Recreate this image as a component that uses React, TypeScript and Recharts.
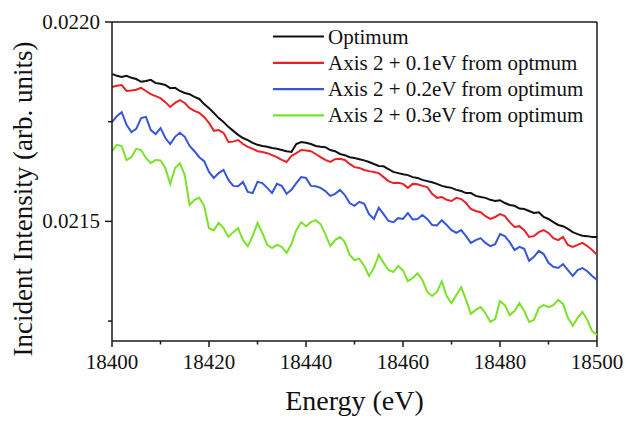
import { Legend, Line, LineChart, ReferenceLine, XAxis, YAxis } from "recharts";

// photon energy (eV), 1 eV steps
const energy = [
  18400, 18401, 18402, 18403, 18404, 18405, 18406, 18407, 18408, 18409,
  18410, 18411, 18412, 18413, 18414, 18415, 18416, 18417, 18418, 18419,
  18420, 18421, 18422, 18423, 18424, 18425, 18426, 18427, 18428, 18429,
  18430, 18431, 18432, 18433, 18434, 18435, 18436, 18437, 18438, 18439,
  18440, 18441, 18442, 18443, 18444, 18445, 18446, 18447, 18448, 18449,
  18450, 18451, 18452, 18453, 18454, 18455, 18456, 18457, 18458, 18459,
  18460, 18461, 18462, 18463, 18464, 18465, 18466, 18467, 18468, 18469,
  18470, 18471, 18472, 18473, 18474, 18475, 18476, 18477, 18478, 18479,
  18480, 18481, 18482, 18483, 18484, 18485, 18486, 18487, 18488, 18489,
  18490, 18491, 18492, 18493, 18494, 18495, 18496, 18497, 18498, 18499,
  18500,
];

const optimum = [
  0.02187, 0.021865, 0.021862, 0.021865, 0.02186, 0.021857, 0.02185, 0.021852, 0.021855, 0.021847,
  0.021845, 0.021842, 0.021834, 0.021835, 0.021827, 0.021822, 0.021819, 0.021812, 0.021807, 0.021794,
  0.021784, 0.021772, 0.021759, 0.021749, 0.021737, 0.021727, 0.021717, 0.021709, 0.021704, 0.021697,
  0.021692, 0.021689, 0.021687, 0.021684, 0.021682, 0.021679, 0.021676, 0.021674, 0.021694, 0.021699,
  0.021697, 0.021694, 0.021689, 0.021687, 0.021686, 0.021679, 0.021676, 0.021669, 0.021666, 0.021661,
  0.021659, 0.021656, 0.021653, 0.021649, 0.021644, 0.021639, 0.021638, 0.021631, 0.021624, 0.021621,
  0.021618, 0.021616, 0.021611, 0.021609, 0.021604, 0.021601, 0.021598, 0.021594, 0.021589, 0.021586,
  0.021584, 0.021579, 0.021576, 0.021571, 0.021571, 0.021564, 0.021561, 0.021559, 0.021554, 0.021551,
  0.021553, 0.021546, 0.021541, 0.021539, 0.021532, 0.021531, 0.021526, 0.021521, 0.021523, 0.021511,
  0.021506, 0.021498, 0.021491, 0.021488, 0.021481, 0.021473, 0.021468, 0.021464, 0.021463, 0.021461,
  0.021461,
];

const plus01 = [
  0.021837, 0.02184, 0.021842, 0.021827, 0.021828, 0.02183, 0.021835, 0.021827, 0.021819, 0.021814,
  0.021809, 0.021799, 0.021787, 0.021797, 0.021804, 0.021797, 0.021784, 0.021777, 0.021772, 0.021762,
  0.021747, 0.021727, 0.021729, 0.021722, 0.021699, 0.0217, 0.021704, 0.021694, 0.021687, 0.021682,
  0.021676, 0.021674, 0.021671, 0.021666, 0.021661, 0.021654, 0.021649, 0.021664, 0.021671, 0.021679,
  0.021678, 0.021676, 0.021669, 0.021661, 0.021654, 0.021649, 0.021656, 0.021657, 0.021654, 0.021644,
  0.021636, 0.021634, 0.021629, 0.021626, 0.021624, 0.021621, 0.021611, 0.021601, 0.021596, 0.021597,
  0.021594, 0.021584, 0.021594, 0.021593, 0.021589, 0.021586, 0.021569, 0.021559, 0.021561, 0.021554,
  0.021551, 0.021559, 0.021556, 0.021546, 0.021531, 0.021526, 0.021523, 0.021513, 0.021506, 0.021511,
  0.021518, 0.021513, 0.021498, 0.021486, 0.021488, 0.021478, 0.021461, 0.021463, 0.021473, 0.021478,
  0.021471, 0.021458, 0.021453, 0.021461, 0.021441, 0.021436, 0.021441, 0.021446, 0.021438, 0.021428,
  0.021416,
];

const plus02 = [
  0.021749, 0.021764, 0.021774, 0.021742, 0.021724, 0.021732, 0.021759, 0.021762, 0.021729, 0.021719,
  0.021734, 0.021709, 0.021694, 0.021712, 0.021722, 0.021712, 0.021689, 0.021676, 0.021661, 0.021651,
  0.021624, 0.021609, 0.021621, 0.021629, 0.021604, 0.021589, 0.021588, 0.021599, 0.021574, 0.021571,
  0.021599, 0.021596, 0.021584, 0.021571, 0.021594, 0.021589, 0.021569, 0.021579, 0.021596, 0.021611,
  0.021609, 0.021589, 0.021588, 0.021584, 0.021576, 0.021564, 0.021569, 0.021579, 0.021566, 0.021546,
  0.021539, 0.021549, 0.021544, 0.021518, 0.021506, 0.021534, 0.021518, 0.021501, 0.021498, 0.021508,
  0.021506, 0.021521, 0.021505, 0.021506, 0.021516, 0.021506, 0.021491, 0.02149, 0.021503, 0.021491,
  0.021478, 0.021471, 0.021478, 0.021463, 0.021446, 0.021453, 0.021458, 0.021446, 0.021438, 0.021443,
  0.021468, 0.021463, 0.021448, 0.021428, 0.021436, 0.021431, 0.021401, 0.021411, 0.021426, 0.021418,
  0.021396, 0.021386, 0.021383, 0.021393, 0.021378, 0.021363, 0.021378, 0.021383, 0.021375, 0.021363,
  0.021353,
];

const plus03 = [
  0.021676, 0.021692, 0.021689, 0.021654, 0.021661, 0.021682, 0.021679, 0.021659, 0.021646, 0.021654,
  0.021653, 0.021634, 0.021594, 0.021634, 0.021646, 0.021616, 0.021541, 0.021554, 0.021559, 0.021539,
  0.021483, 0.021478, 0.021496, 0.021483, 0.021461, 0.021473, 0.021483, 0.021453, 0.021438, 0.021463,
  0.021496, 0.021471, 0.021441, 0.021433, 0.021441, 0.021436, 0.021421, 0.021443, 0.021478, 0.021498,
  0.021488, 0.021498, 0.021503, 0.021493, 0.021468, 0.021438, 0.021453, 0.021461, 0.021448, 0.021416,
  0.021403, 0.021406, 0.021388, 0.021363, 0.021383, 0.021416, 0.021396, 0.021378, 0.021373, 0.021388,
  0.021377, 0.02135, 0.021358, 0.02137, 0.021353, 0.021323, 0.021313, 0.021323, 0.02135, 0.021313,
  0.021295, 0.021315, 0.021335, 0.021303, 0.021268, 0.021278, 0.021285, 0.02127, 0.021248, 0.021255,
  0.0213, 0.02129, 0.021265, 0.021275, 0.021295, 0.021275, 0.021248, 0.021253, 0.021283, 0.02129,
  0.021285, 0.02129, 0.021303, 0.021293, 0.021258, 0.021238, 0.021258, 0.021273, 0.021253, 0.021225,
  0.021215,
];

const xTicks = [18400, 18410, 18420, 18430, 18440, 18450, 18460, 18470, 18480, 18490, 18500];
const xLabelled = [18400, 18420, 18440, 18460, 18480, 18500];
const yTicks = [0.02125, 0.0215, 0.02175, 0.022];
const yLabelled = [0.0215, 0.022];

const FONT = "Liberation Serif";
const AXIS = "#1a1a1a";

const series = [
  { key: "optimum", name: "Optimum", color: "#111111" },
  { key: "plus01", name: "Axis 2 + 0.1eV from optmum", color: "#ea2228" },
  { key: "plus02", name: "Axis 2 + 0.2eV from optimum", color: "#3556d8" },
  { key: "plus03", name: "Axis 2 + 0.3eV from optimum", color: "#7be22a" },
];

const data = energy.map((e, i) => ({
  energy: e,
  optimum: optimum[i],
  plus01: plus01[i],
  plus02: plus02[i],
  plus03: plus03[i],
}));

const serif = { fontFamily: FONT };

function XTick(props: any) {
  const { x, y, payload } = props;
  const major = xLabelled.includes(payload.value);
  return (
    <g>
      <line x1={x} x2={x} y1={y} y2={y + (major ? 6 : 3.5)} stroke={AXIS} strokeWidth={1.5} />
      {major && (
        <text x={x} y={y + 28} textAnchor="middle" fontSize={21} style={serif} fill="#111">
          {payload.value}
        </text>
      )}
    </g>
  );
}

function YTick(props: any) {
  const { x, y, payload } = props;
  const major = yLabelled.some((v) => Math.abs(v - payload.value) < 1e-9);
  return (
    <g>
      <line x1={x - (major ? 7 : 4)} x2={x} y1={y} y2={y} stroke={AXIS} strokeWidth={1.5} />
      {major && (
        <text x={x - 12} y={y + 7} textAnchor="end" fontSize={21} style={serif} fill="#111">
          {payload.value.toFixed(4)}
        </text>
      )}
    </g>
  );
}

function LegendBox(props: any) {
  const items = (props.payload || [])
    .slice()
    .sort(
      (a: any, b: any) =>
        series.findIndex((s) => s.name === a.value) - series.findIndex((s) => s.name === b.value),
    );
  return (
    <svg width={340} height={112} style={{ display: "block" }}>
      {items.map((it: any, i: number) => {
        const cy = 14.5 + i * 26.3;
        return (
          <g key={it.value}>
            <line x1={1} x2={52} y1={cy} y2={cy} stroke={it.color} strokeWidth={2.2} />
            <text x={56} y={cy + 7} fontSize={21} style={serif} fill="#111">
              {it.value}
            </text>
          </g>
        );
      })}
    </svg>
  );
}

export default function App() {
  return (
    <div style={{ position: "absolute", left: 0, top: 0, background: "#fff" }}>
      <LineChart width={630} height={425} data={data} margin={{ top: 22, right: 33, bottom: 0, left: 0 }}>
        <XAxis
          dataKey="energy"
          type="number"
          domain={[18400, 18500]}
          ticks={xTicks}
          interval={0}
          tickSize={0}
          tickMargin={0}
          tickLine={false}
          tick={<XTick />}
          axisLine={{ stroke: AXIS, strokeWidth: 1.5 }}
          height={84}
          label={{
            content: (p: any) => {
              const vb = p.viewBox;
              return (
                <text x={vb.x + vb.width / 2} y={vb.y + 69} textAnchor="middle" fontSize={28} style={serif} fill="#111">
                  Energy (eV)
                </text>
              );
            },
          }}
        />
        <YAxis
          type="number"
          domain={[0.0212, 0.022]}
          ticks={yTicks}
          interval={0}
          allowDataOverflow
          tickSize={0}
          tickMargin={0}
          tickLine={false}
          tick={<YTick />}
          axisLine={{ stroke: AXIS, strokeWidth: 1.5 }}
          width={112}
          label={{
            content: () => (
              <text
                x={32}
                y={199}
                textAnchor="middle"
                fontSize={27}
                style={serif}
                fill="#111"
                transform="rotate(-90, 32, 199)"
              >
                Incident Intensity (arb. units)
              </text>
            ),
          }}
        />
        <ReferenceLine y={0.022} stroke={AXIS} strokeWidth={1.5} />
        <ReferenceLine x={18500} stroke={AXIS} strokeWidth={1.5} />
        <Legend
          layout="vertical"
          align="center"
          verticalAlign="middle"
          wrapperStyle={{ position: "absolute", left: 272, top: 22, width: 340 }}
          content={<LegendBox />}
        />
        {series.map((s) => (
          <Line
            key={s.key}
            dataKey={s.key}
            name={s.name}
            stroke={s.color}
            strokeWidth={2}
            dot={false}
            type="linear"
            isAnimationActive={false}
          />
        ))}
      </LineChart>
    </div>
  );
}
